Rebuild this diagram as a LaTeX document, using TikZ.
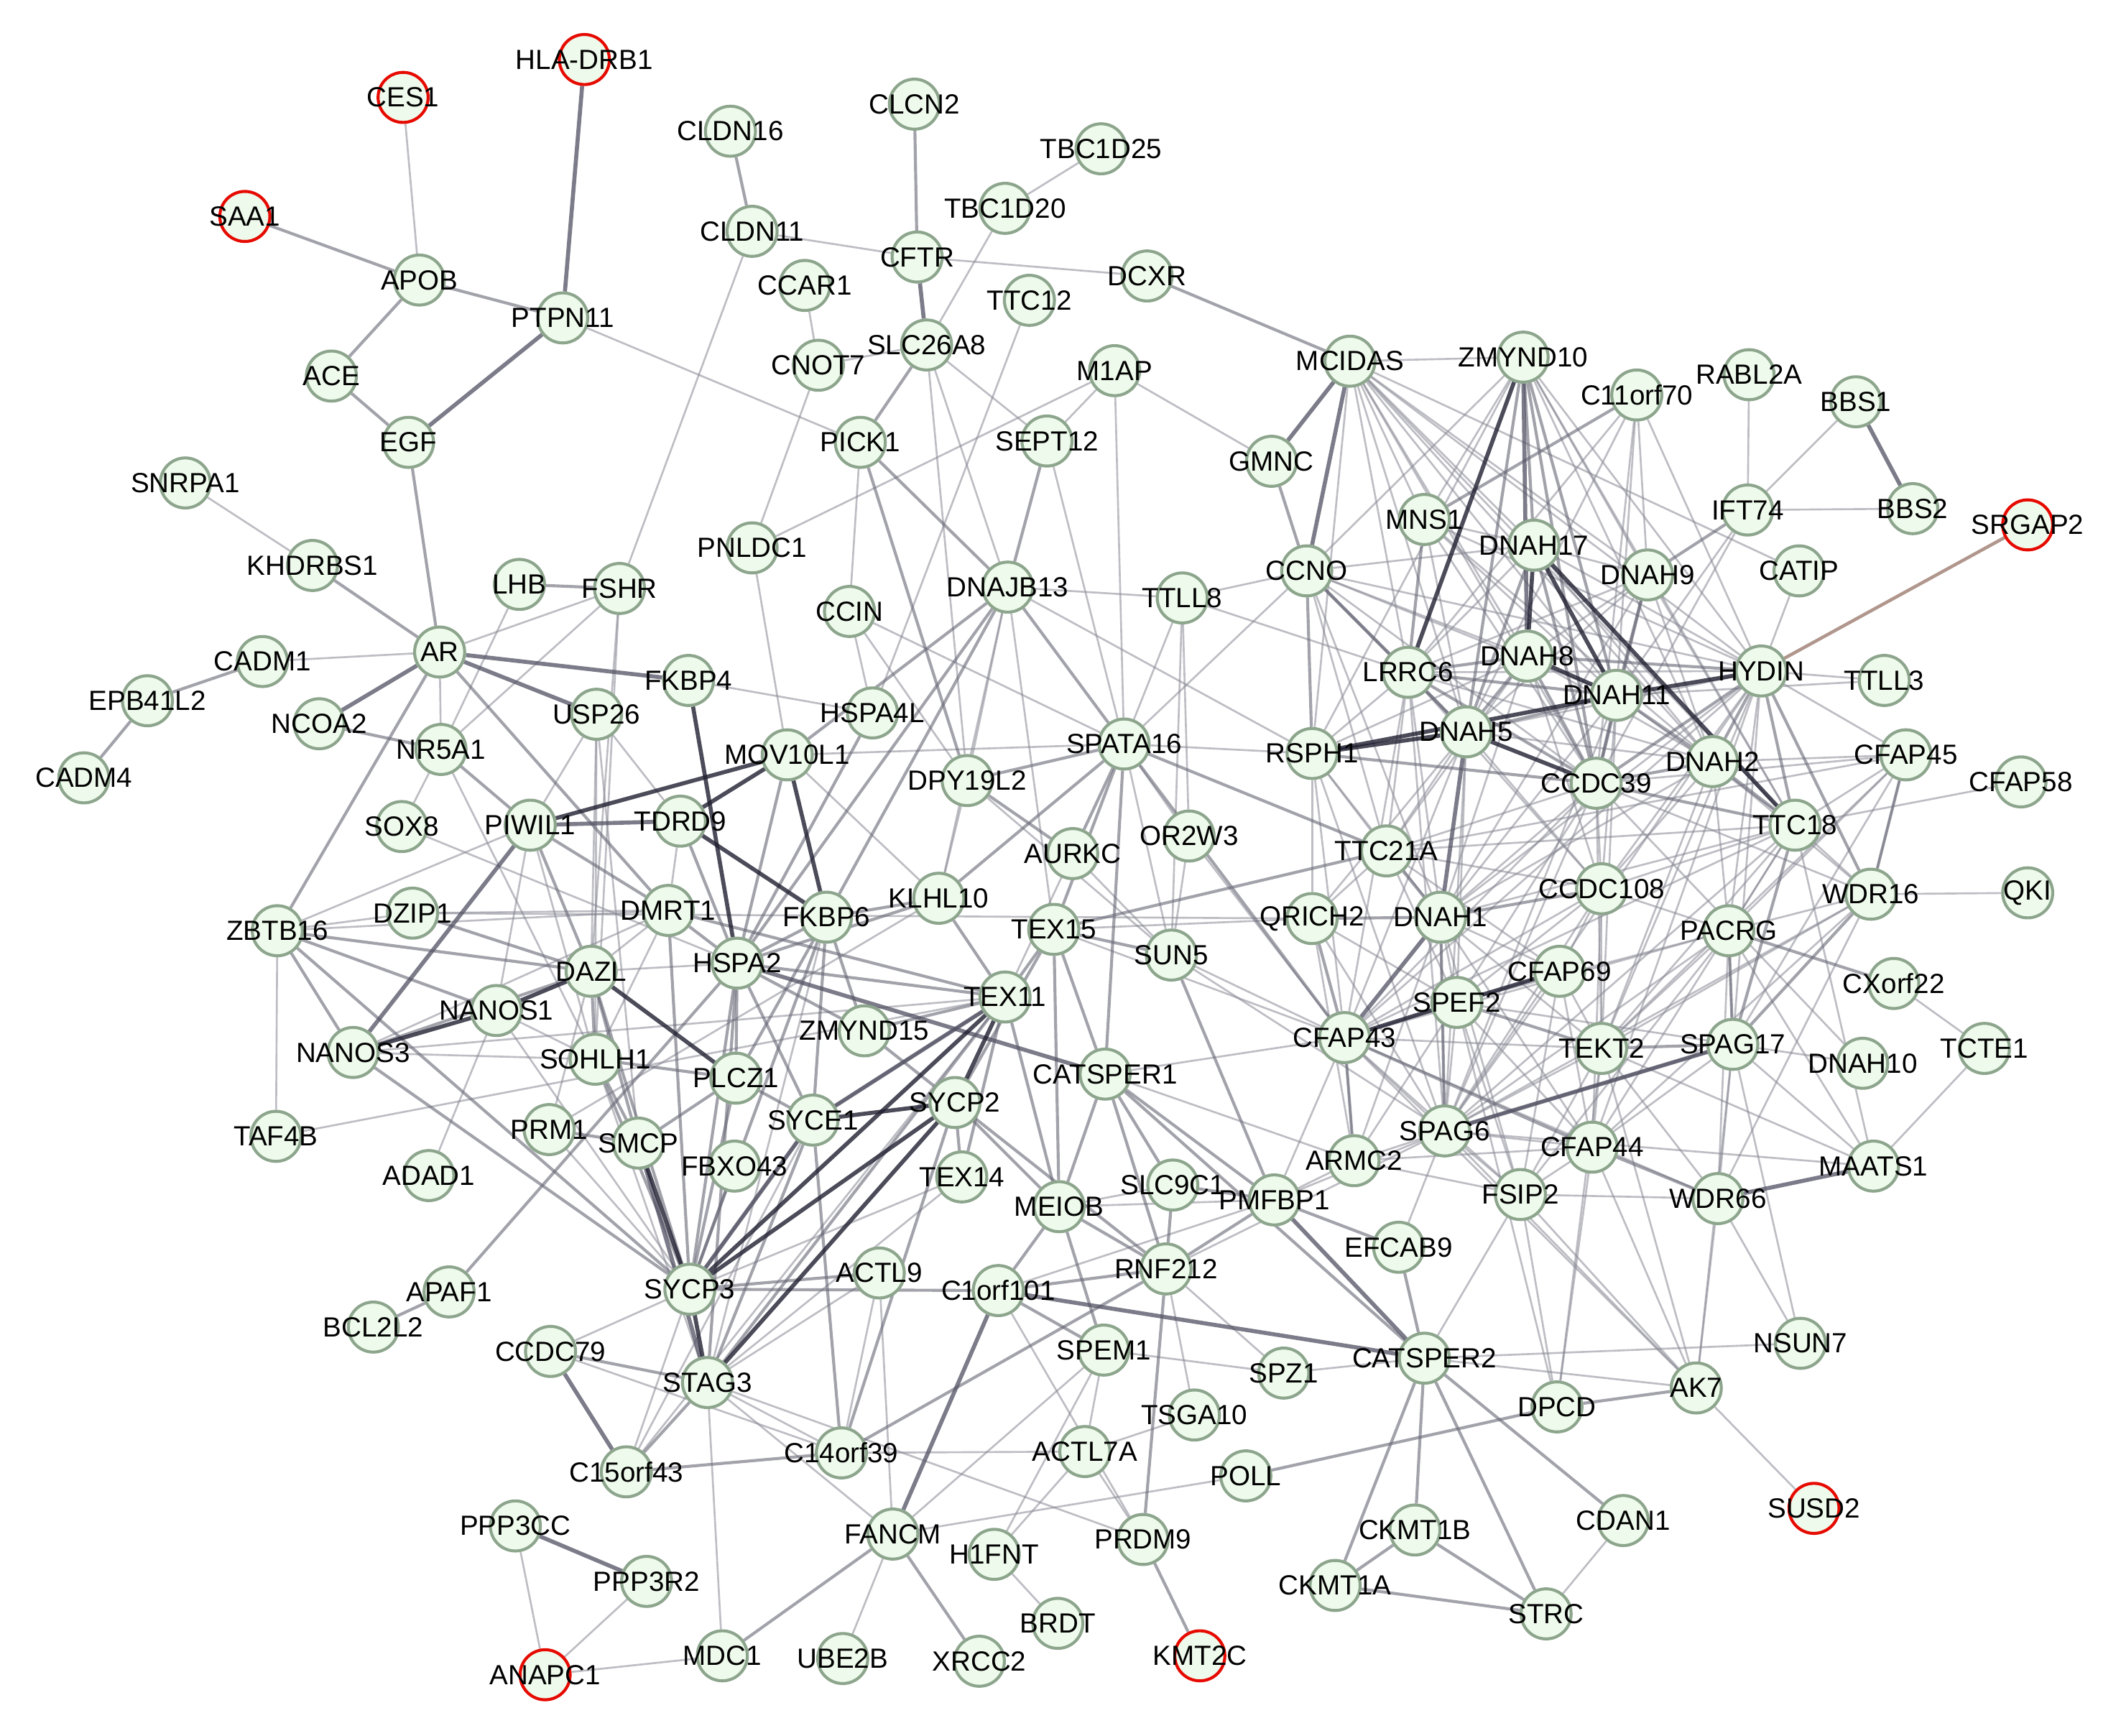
\documentclass[tikz,border=0pt]{standalone}
\usepackage{fontspec}
\setmainfont{Liberation Sans}
\pgfdeclarelayer{bg}
\pgfdeclarelayer{paper}
\pgfsetlayers{paper,bg,main}
\definecolor{nfill}{RGB}{238,250,235}
\definecolor{nbord}{RGB}{140,165,140}
\definecolor{rbord}{RGB}{230,10,0}
\definecolor{cL}{RGB}{135,135,148}
\definecolor{cM}{RGB}{105,105,120}
\definecolor{cD}{RGB}{80,80,98}
\definecolor{cK}{RGB}{30,30,48}
\definecolor{cBr}{RGB}{176,150,140}
\tikzset{
  gn/.style={circle, draw=nbord, fill=nfill, line width=2.2pt, minimum size=37pt, inner sep=0pt},
  rn/.style={circle, draw=rbord, fill=nfill, line width=2.2pt, minimum size=37pt, inner sep=0pt},
  lbl/.style={font=\fontsize{20.5}{20.5}\selectfont, text=black, inner sep=0pt},
  eL/.style={draw=cL, line width=1.4pt, opacity=0.55},
  eM/.style={draw=cM, line width=2.2pt, opacity=0.62},
  eD/.style={draw=cD, line width=3pt, opacity=0.75},
  eK/.style={draw=cK, line width=3pt, opacity=0.8},
  eBr/.style={draw=cBr, line width=2.4pt},
}
\begin{document}
\begin{tikzpicture}[x=1pt,y=-1pt]
\useasboundingbox (0,0) rectangle (1568,1283);
\begin{pgfonlayer}{paper}
\fill[white] (0,0) rectangle (1568,1283);
\end{pgfonlayer}
% green nodes
\foreach \n/\x/\y/\t in {
APOB/310/207/APOB, PTPN11/416/235/PTPN11, ACE/245/278/ACE, EGF/302/327/EGF,
SNRPA1/137/357/SNRPA1, KHDRBS1/231/418/KHDRBS1, LHB/384/432/LHB, FSHR/458/435/FSHR,
CADM1/194/489/CADM1, AR/325/482/AR, EPB41L2/109/518/EPB41L2, CADM4/62/575/CADM4,
NCOA2/236/535/NCOA2, NR5A1/326/554/NR5A1, USP26/441/528/USP26, FKBP4/509/503/FKBP4,
SOX8/297/611/SOX8, PIWIL1/392/610/PIWIL1, TDRD9/503/607/TDRD9, MOV10L1/582/558/MOV10L1,
CLDN16/540/97/CLDN16, CLDN11/556/171/CLDN11, CLCN2/676/77/CLCN2, TBC1D25/814/110/TBC1D25,
TBC1D20/743/154/TBC1D20, CFTR/678/190/CFTR, CCAR1/595/211/CCAR1, TTC12/761/222/TTC12,
DCXR/848/204/DCXR, CNOT7/605/270/CNOT7, SLC26A8/685/255/SLC26A8, M1AP/824/274/M1AP,
PICK1/636/327/PICK1, SEPT12/774/326/SEPT12, PNLDC1/556/405/PNLDC1, CCIN/628/452/CCIN,
DNAJB13/745/434/DNAJB13, TTLL8/874/442/TTLL8, HSPA4L/645/527/HSPA4L, DPY19L2/715/577/DPY19L2,
SPATA16/831/550/SPATA16, AURKC/793/631/AURKC, OR2W3/879/618/OR2W3, ZBTB16/205/688/ZBTB16,
DZIP1/305/675/DZIP1, DMRT1/494/673/DMRT1, DAZL/437/718/DAZL, HSPA2/545/712/HSPA2,
FKBP6/611/678/FKBP6, KLHL10/694/664/KLHL10, TEX15/779/687/TEX15, SUN5/866/706/SUN5,
NANOS1/367/747/NANOS1, NANOS3/261/778/NANOS3, SOHLH1/440/783/SOHLH1, ZMYND15/639/762/ZMYND15,
TEX11/743/737/TEX11, CATSPER1/817/794/CATSPER1, PLCZ1/544/797/PLCZ1, PRM1/406/835/PRM1,
SMCP/472/845/SMCP, SYCE1/601/828/SYCE1, SYCP2/706/815/SYCP2, TAF4B/204/840/TAF4B,
ADAD1/317/869/ADAD1, FBXO43/543/862/FBXO43, TEX14/711/870/TEX14, MEIOB/783/892/MEIOB,
SLC9C1/867/876/SLC9C1, PMFBP1/942/887/PMFBP1, ARMC2/1001/858/ARMC2, EFCAB9/1034/922/EFCAB9,
APAF1/332/955/APAF1, BCL2L2/276/981/BCL2L2, SYCP3/510/953/SYCP3, ACTL9/650/941/ACTL9,
C1orf101/738/954/C1orf101, RNF212/862/938/RNF212, CCDC79/407/999/CCDC79, STAG3/523/1022/STAG3,
SPEM1/816/998/SPEM1, SPZ1/949/1015/SPZ1, CATSPER2/1053/1004/CATSPER2, C15orf43/463/1088/C15orf43,
C14orf39/622/1074/C14orf39, ACTL7A/802/1073/ACTL7A, TSGA10/883/1046/TSGA10, POLL/921/1091/POLL,
DPCD/1151/1040/DPCD, AK7/1254/1026/AK7, NSUN7/1331/993/NSUN7,
PPP3CC/381/1128/PPP3CC, PPP3R2/478/1169/PPP3R2, FANCM/660/1134/FANCM, H1FNT/735/1149/H1FNT,
PRDM9/845/1138/PRDM9, CKMT1B/1046/1131/CKMT1B, CDAN1/1200/1124/CDAN1, CKMT1A/987/1172/CKMT1A,
STRC/1143/1193/STRC, BRDT/782/1200/BRDT, MDC1/534/1224/MDC1, UBE2B/623/1226/UBE2B,
XRCC2/724/1228/XRCC2,
MCIDAS/998/267/MCIDAS, ZMYND10/1126/264/ZMYND10, C11orf70/1210/292/C11orf70, RABL2A/1293/277/RABL2A,
BBS1/1372/297/BBS1, BBS2/1414/376/BBS2, IFT74/1292/377/IFT74, GMNC/940/341/GMNC,
MNS1/1053/384/MNS1, DNAH17/1134/403/DNAH17, DNAH9/1218/425/DNAH9, CATIP/1330/422/CATIP,
CCNO/966/422/CCNO, HYDIN/1302/496/HYDIN, TTLL3/1393/503/TTLL3, DNAH8/1129/485/DNAH8,
LRRC6/1041/497/LRRC6, DNAH11/1195/514/DNAH11, RSPH1/970/557/RSPH1, DNAH5/1084/541/DNAH5,
CCDC39/1180/579/CCDC39, DNAH2/1266/563/DNAH2, CFAP45/1409/558/CFAP45, CFAP58/1494/578/CFAP58,
TTC18/1327/610/TTC18, TTC21A/1025/629/TTC21A, CCDC108/1184/657/CCDC108, DNAH1/1065/678/DNAH1,
QRICH2/970/679/QRICH2, PACRG/1278/688/PACRG, WDR16/1383/661/WDR16, QKI/1499/660/QKI,
CFAP69/1153/718/CFAP69, SPEF2/1077/741/SPEF2, CXorf22/1400/727/CXorf22, CFAP43/994/767/CFAP43,
TEKT2/1184/775/TEKT2, SPAG17/1281/772/SPAG17, DNAH10/1377/786/DNAH10, TCTE1/1467/775/TCTE1,
SPAG6/1068/836/SPAG6, CFAP44/1177/848/CFAP44, MAATS1/1385/862/MAATS1, WDR66/1270/886/WDR66,
FSIP2/1124/883/FSIP2}
  \node[gn, label={[lbl]center:\t}] (\n) at (\x,\y) {};
% red nodes
\foreach \n/\x/\y/\t in {HLADRB1/432/44/HLA-DRB1, CES1/298/72/CES1, SAA1/181/160/SAA1,
SRGAP2/1499/388/SRGAP2, SUSD2/1341/1115/SUSD2, ANAPC1/403/1238/ANAPC1, KMT2C/887/1224/KMT2C}
  \node[rn, label={[lbl]center:\t}] (\n) at (\x,\y) {};

\begin{pgfonlayer}{bg}
% light edges
\foreach \a/\b in {
CES1/APOB, PTPN11/PICK1, SNRPA1/KHDRBS1, CLDN11/FSHR, CLDN11/CFTR, CFTR/DCXR, TBC1D25/TBC1D20,
TBC1D20/SLC26A8, CCAR1/CNOT7, CNOT7/PNLDC1, CNOT7/SLC26A8, SLC26A8/DNAJB13, SLC26A8/SEPT12,
SLC26A8/DPY19L2, TTC12/HSPA4L, M1AP/GMNC, M1AP/PNLDC1, M1AP/SPATA16, PICK1/CCIN, SEPT12/SPATA16,
MCIDAS/ZMYND10, AR/CADM1, AR/NR5A1, FSHR/AR, FSHR/NR5A1, FSHR/DAZL, FSHR/SOHLH1, LHB/NR5A1,
NR5A1/SOX8, NR5A1/SOHLH1, PIWIL1/ZBTB16, PIWIL1/SOHLH1, PIWIL1/NANOS1, SOX8/HSPA2, ZBTB16/DZIP1,
ZBTB16/DMRT1, ZBTB16/TAF4B, DZIP1/DMRT1, DAZL/DMRT1, DAZL/PRM1, DAZL/HSPA2, NANOS1/SOHLH1,
NANOS1/ADAD1, NANOS3/SOHLH1, TAF4B/TEX11, PRM1/KLHL10, FKBP4/HSPA4L, MOV10L1/PNLDC1,
MOV10L1/SPATA16, CCIN/SPATA16, CCIN/DPY19L2, DNAJB13/DPY19L2, DNAJB13/TTLL8, DNAJB13/KLHL10,
DNAJB13/RSPH1, DPY19L2/KLHL10, DPY19L2/SUN5, SPATA16/OR2W3, SPATA16/RSPH1, SPATA16/CCNO,
SPATA16/SUN5, TTLL8/SUN5, AURKC/SUN5, USP26/PIWIL1, USP26/DAZL, USP26/SOHLH1, USP26/TDRD9,
USP26/SMCP, DZIP1/QRICH2, TTLL8/CCNO, TTLL8/LRRC6, OR2W3/SUN5, OR2W3/CFAP43, AURKC/TEX11,
RABL2A/IFT74, IFT74/BBS1, IFT74/BBS2, CATIP/HYDIN, WDR16/QKI, CXorf22/TCTE1, TCTE1/MAATS1,
AK7/SUSD2, STRC/CDAN1, PPP3CC/ANAPC1, PPP3R2/ANAPC1, ANAPC1/MDC1, FANCM/UBE2B, FANCM/POLL,
H1FNT/BRDT, H1FNT/ACTL7A, STAG3/MDC1, TTC18/CFAP58, TTLL3/DNAH11, NSUN7/WDR66, NSUN7/SPAG17,
CATSPER2/NSUN7, DNAH10/SPAG17, DNAH10/CCDC39, CATIP/MCIDAS,
MCIDAS/MNS1, MCIDAS/LRRC6, MCIDAS/DNAH8, MCIDAS/DNAH5, MCIDAS/RSPH1, MCIDAS/HYDIN, MCIDAS/DNAH9,
MCIDAS/CCDC39, MCIDAS/DNAH17, MCIDAS/TTC18, MCIDAS/DNAH11, MCIDAS/DNAH2,
ZMYND10/MNS1, ZMYND10/CCNO, ZMYND10/RSPH1, ZMYND10/HYDIN, ZMYND10/DNAH2, ZMYND10/DNAH9, ZMYND10/TTC18,
C11orf70/DNAH9, C11orf70/DNAH11, C11orf70/LRRC6, C11orf70/HYDIN, C11orf70/CCDC39, C11orf70/DNAH5,
IFT74/DNAH11, IFT74/CCDC39, CCNO/DNAH17, CCNO/DNAH11, CCNO/HYDIN, CCNO/DNAH8, CCNO/TTC21A,
CCNO/DNAH1, CCNO/CCDC39, MNS1/DNAH17, MNS1/DNAH11, MNS1/CCDC39, MNS1/HYDIN, MNS1/DNAH5, MNS1/DNAH2,
DNAH17/DNAH9, DNAH17/DNAH2, DNAH17/HYDIN, DNAH17/LRRC6, DNAH9/DNAH8, DNAH9/DNAH5, DNAH9/DNAH2,
DNAH9/LRRC6, DNAH9/TTC18, DNAH9/DNAH1, HYDIN/LRRC6, HYDIN/CFAP45, HYDIN/TTLL3, HYDIN/CCDC108,
HYDIN/SPAG17, HYDIN/PACRG, HYDIN/DNAH5, HYDIN/SPAG6, HYDIN/CFAP43, HYDIN/TEKT2, HYDIN/CFAP44,
HYDIN/DNAH1, RSPH1/LRRC6, RSPH1/TTC21A, RSPH1/DNAH1, RSPH1/SPAG6, RSPH1/CFAP43, RSPH1/QRICH2,
RSPH1/DNAH8, LRRC6/DNAH1, LRRC6/TTC21A, LRRC6/DNAH2, LRRC6/CCDC108, LRRC6/SPAG6, LRRC6/CFAP43,
DNAH8/DNAH1, DNAH8/DNAH2, DNAH8/CCDC108, DNAH8/TTC21A, DNAH11/DNAH1, DNAH11/CCDC108, DNAH11/TTC18,
DNAH11/TEKT2, DNAH11/SPAG6, DNAH5/DNAH2, DNAH5/CFAP43, DNAH5/SPAG6, DNAH5/SPEF2, DNAH5/TTC21A,
DNAH5/CCDC108, DNAH5/QRICH2, CCDC39/DNAH1, CCDC39/CCDC108, CCDC39/SPAG6, CCDC39/CFAP43,
CCDC39/TEKT2, CCDC39/SPEF2, CCDC39/TTC21A, CCDC39/WDR16, CCDC39/CFAP45, DNAH2/CFAP45,
DNAH2/CCDC108, DNAH2/DNAH1, DNAH2/WDR16, DNAH2/PACRG, DNAH2/TEKT2, TTC18/WDR16, TTC18/CFAP45,
TTC18/CCDC108, TTC18/PACRG, TTC18/TEKT2, TTC18/DNAH1, TTC18/CFAP43, TTC18/TTC21A, TTC18/MAATS1,
TTC18/SPAG6, TTC18/CFAP44, CFAP45/WDR16, CFAP45/PACRG, CFAP45/TEKT2, CFAP45/TTC21A, CFAP45/SPAG17,
WDR16/SPAG6, WDR16/WDR66, WDR16/PACRG, WDR16/TEKT2, WDR16/CFAP44, PACRG/CCDC108, PACRG/SPAG17,
PACRG/SPAG6, PACRG/TEKT2, PACRG/MAATS1, PACRG/WDR66, PACRG/CFAP43, PACRG/SPEF2, PACRG/FSIP2,
TTC21A/QRICH2, TTC21A/SPEF2, TTC21A/CFAP69, TTC21A/CCDC108, CCDC108/CFAP69, CCDC108/TEKT2,
CCDC108/SPEF2, CCDC108/CFAP43, CCDC108/SPAG6, CCDC108/CFAP44, DNAH1/SPEF2, DNAH1/CFAP69,
DNAH1/SPAG6, DNAH1/TEKT2, DNAH1/CFAP44, DNAH1/FSIP2, DNAH1/ARMC2, QRICH2/SPAG6, QRICH2/ARMC2,
QRICH2/SPEF2, CFAP69/CFAP43, CFAP69/TEKT2, CFAP69/SPAG6, CFAP69/CFAP44, CFAP69/FSIP2, SPEF2/SPAG6,
SPEF2/CFAP44, SPEF2/SPAG17, SPEF2/FSIP2, SPEF2/ARMC2, CFAP43/SPAG6, CFAP43/ARMC2, CFAP43/FSIP2,
CFAP43/TEKT2, CFAP43/PMFBP1, CFAP43/WDR66, TEKT2/SPAG6, TEKT2/CFAP44, TEKT2/FSIP2, TEKT2/WDR66,
TEKT2/MAATS1, SPAG17/CFAP44, SPAG17/WDR66, SPAG17/MAATS1, SPAG6/CFAP44, SPAG6/ARMC2, SPAG6/FSIP2,
SPAG6/MAATS1, SPAG6/PMFBP1, CFAP44/FSIP2, CFAP44/ARMC2, CFAP44/AK7, CFAP44/DPCD, FSIP2/WDR66,
FSIP2/ARMC2, FSIP2/CATSPER2, FSIP2/DPCD, FSIP2/AK7, ARMC2/PMFBP1, AK7/TEKT2, AK7/CFAP43, AK7/SPAG6,
AK7/WDR66, AK7/SPAG17, AK7/CATSPER2, DPCD/TEKT2, DPCD/SPEF2,
TEX15/QRICH2, CATSPER1/CFAP43, CATSPER1/ARMC2, SUN5/SPAG6, SUN5/CFAP43, TEX15/CFAP43,
MOV10L1/KLHL10, DMRT1/SOHLH1, DMRT1/NANOS3, TDRD9/DMRT1, FKBP6/STAG3, SOHLH1/STAG3, PRM1/SYCP3,
NANOS3/TEX11, NANOS1/SYCP3, TEX14/SYCP3, TEX14/STAG3, SLC9C1/MEIOB, SYCP3/CCDC79, SYCP3/C15orf43,
STAG3/C14orf39, ACTL9/C14orf39, TSGA10/ACTL7A, TSGA10/RNF212, SPEM1/ACTL7A, FANCM/SPEM1,
PRDM9/ACTL7A, PRDM9/STAG3, PRDM9/C1orf101, C14orf39/ACTL7A, STAG3/ACTL9, CCDC79/C14orf39,
C15orf43/SYCE1, C15orf43/TEX11, SPZ1/RNF212, SPZ1/SPEM1, EFCAB9/SPAG6, CATSPER2/SPZ1,
MEIOB/PMFBP1, RNF212/SPAG6, C1orf101/PMFBP1, ACTL9/FANCM, FANCM/STAG3, H1FNT/SPEM1,
SPATA16/TTLL8, TTLL8/OR2W3, SEPT12/M1AP, DNAJB13/TEX15, CCIN/HSPA4L}
  \draw[eL] (\a) -- (\b);
% medium edges
\foreach \a/\b in {
SAA1/APOB, APOB/PTPN11, APOB/ACE, ACE/EGF, EGF/AR, KHDRBS1/AR, CLDN16/CLDN11, CLCN2/CFTR,
SLC26A8/PICK1, DCXR/MCIDAS, PICK1/DNAJB13, PICK1/DPY19L2, SEPT12/DNAJB13, GMNC/CCNO,
CADM1/EPB41L2, EPB41L2/CADM4, NCOA2/NR5A1, AR/ZBTB16, AR/DMRT1, LHB/FSHR, NR5A1/PIWIL1,
PIWIL1/DAZL, PIWIL1/DMRT1, ZBTB16/DAZL, ZBTB16/NANOS3, ZBTB16/NANOS1, ZBTB16/SYCP3, DZIP1/DAZL,
DAZL/NANOS3, DAZL/SOHLH1, DAZL/SMCP, NANOS3/SYCP3, APAF1/BCL2L2, APAF1/HSPA2, MDC1/FANCM,
FANCM/XRCC2, PRDM9/KMT2C, PRDM9/RNF212, POLL/DPCD, DPCD/AK7, CATSPER2/CKMT1B, CATSPER2/CKMT1A,
CATSPER2/STRC, CATSPER2/CDAN1, CATSPER2/EFCAB9, CKMT1A/CKMT1B, CKMT1A/STRC, CKMT1B/STRC,
IFT74/DNAH9, PACRG/CXorf22, STAG3/CCDC79, C15orf43/C14orf39, SYCE1/C14orf39, RNF212/C14orf39,
MOV10L1/DNAJB13, MOV10L1/HSPA2, HSPA4L/HSPA2, DNAJB13/HSPA2, DNAJB13/SPATA16, DNAJB13/FKBP6,
DPY19L2/SPATA16, DPY19L2/AURKC, SPATA16/KLHL10, SPATA16/TEX15, SPATA16/CATSPER1, SPATA16/AURKC,
SPATA16/TTC21A, SPATA16/CFAP43, KLHL10/TEX11, KLHL10/HSPA2, KLHL10/FKBP6, TEX15/TEX11, TEX15/SYCP2,
TEX15/MEIOB, TEX15/CATSPER1, TEX15/TTC21A, TEX15/SUN5, TEX11/SYCE1, TEX11/MEIOB, TEX11/TEX14,
TEX11/STAG3, TEX11/HSPA2, TEX11/ZMYND15, HSPA2/PLCZ1, HSPA2/SYCP3, HSPA2/ZMYND15, HSPA2/SYCE1,
HSPA2/FKBP6, ZMYND15/SYCP2, CATSPER1/CATSPER2, CATSPER1/SLC9C1, CATSPER1/PMFBP1, CATSPER1/MEIOB,
CATSPER1/RNF212, SYCP2/MEIOB, SYCP2/TEX14, SYCE1/SYCP3, SYCE1/STAG3, SYCE1/PLCZ1, PLCZ1/SYCP3,
PLCZ1/SMCP, FBXO43/SYCP3, SYCP3/ACTL9, SYCP3/C1orf101, STAG3/C15orf43, MEIOB/C1orf101,
MEIOB/SPEM1, MEIOB/RNF212, RNF212/SYCP2, RNF212/PMFBP1, RNF212/C1orf101, SPEM1/C1orf101,
DMRT1/HSPA2, DMRT1/SYCP3, DMRT1/TEX11, TDRD9/HSPA2, FKBP6/SYCP3, FKBP6/SYCE1, FKBP6/PLCZ1,
FKBP6/ZMYND15, SOHLH1/SYCP3, SOHLH1/PLCZ1, SOHLH1/SMCP, PRM1/SMCP, SLC9C1/PMFBP1, SLC9C1/RNF212,
SUN5/PMFBP1, PMFBP1/EFCAB9, HSPA2/STAG3, DAZL/SYCP3, SYCP2/C14orf39,
ZMYND10/DNAH17, ZMYND10/DNAH5, ZMYND10/DNAH11, ZMYND10/CCDC39, C11orf70/MNS1, MNS1/LRRC6,
CCNO/RSPH1, CCNO/LRRC6, CCNO/DNAH5, DNAH17/DNAH5, DNAH17/CCDC39, DNAH9/DNAH11, DNAH9/CCDC39,
HYDIN/DNAH8, HYDIN/CCDC39, HYDIN/DNAH2, HYDIN/TTC18, HYDIN/WDR16, RSPH1/CCDC39, LRRC6/DNAH8,
LRRC6/DNAH5, LRRC6/DNAH11, LRRC6/CCDC39, DNAH8/DNAH5, DNAH8/CCDC39, DNAH11/DNAH5, DNAH11/CCDC39,
DNAH11/DNAH2, CCDC39/DNAH2, CCDC39/TTC18, DNAH2/TTC18, TTC18/SPAG17, WDR16/SPAG17, CCDC108/DNAH1,
DNAH1/TTC21A, DNAH1/QRICH2, SPEF2/TEKT2, CFAP43/CFAP44, CFAP43/QRICH2, TEKT2/SPAG17, CFAP44/WDR66,
SPAG17/SPAG6, CFAP45/WDR16, DNAH1/SPAG6, CFAP43/ARMC2, PACRG/SPAG17}
  \draw[eM] (\a) -- (\b);
% dark edges
\foreach \a/\b in {
HLADRB1/PTPN11, PTPN11/EGF, AR/NCOA2, AR/FKBP4, AR/USP26, MCIDAS/CCNO, MCIDAS/GMNC, CFTR/SLC26A8,
CCDC79/C15orf43, FANCM/C1orf101, C1orf101/CATSPER2, PMFBP1/CATSPER2, HSPA2/CATSPER1, PIWIL1/TDRD9,
PIWIL1/NANOS3, PPP3CC/PPP3R2, BBS1/BBS2, MAATS1/WDR66, DNAH5/DNAH1, DNAH1/CFAP43, ZMYND10/DNAH8,
SPAG6/SPAG17, TEX11/SYCE1, SYCE1/SYCP3, SMCP/STAG3}
  \draw[eD] (\a) -- (\b);
% very dark edges
\foreach \a/\b in {
PIWIL1/MOV10L1, MOV10L1/TDRD9, MOV10L1/FKBP6, TDRD9/FKBP6, FKBP4/HSPA2, DAZL/NANOS1, NANOS1/NANOS3,
DAZL/PLCZ1, SMCP/SYCP3, TEX11/SYCP2, TEX11/SYCP3, SYCP2/SYCE1, SYCP2/SYCP3, SYCP2/STAG3, SYCP3/STAG3,
ZMYND10/LRRC6, DNAH17/DNAH8, DNAH17/DNAH11, RSPH1/DNAH5, RSPH1/DNAH11, DNAH8/DNAH11,
DNAH5/CCDC39, HYDIN/DNAH11, CFAP69/SPEF2, SPEF2/CFAP43, DNAH17/TTC18}
  \draw[eK] (\a) -- (\b);
\draw[eBr] (HYDIN) -- (SRGAP2);
\end{pgfonlayer}
\end{tikzpicture}
\end{document}
